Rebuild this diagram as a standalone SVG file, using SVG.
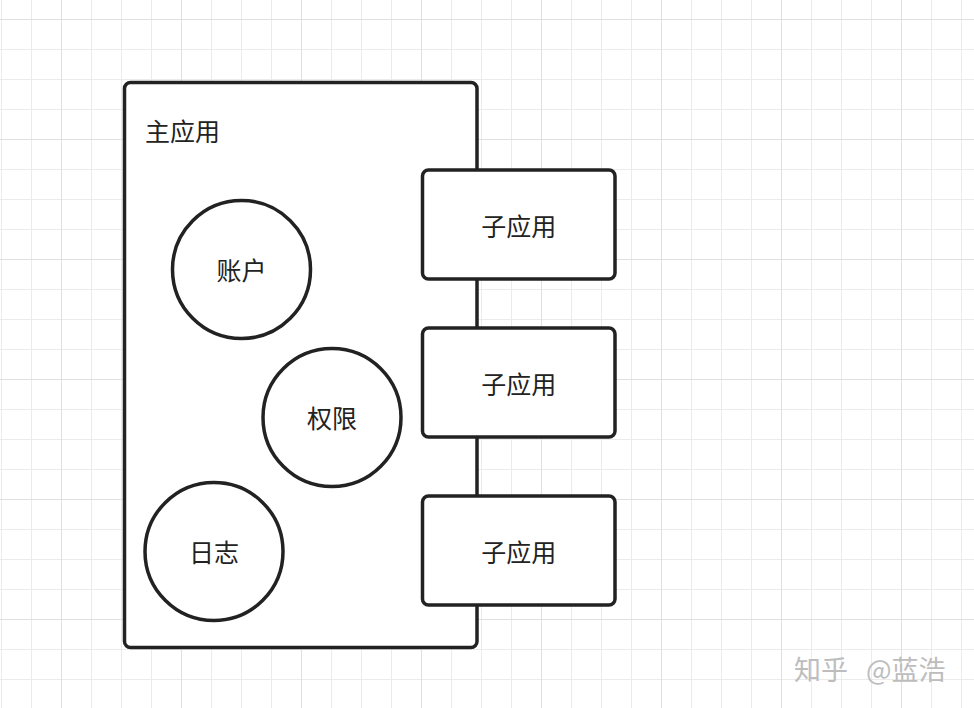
<svg xmlns="http://www.w3.org/2000/svg" width="974" height="708" viewBox="0 0 974 708">
  <defs>
    <pattern id="minor" x="1" y="19" width="30" height="30" patternUnits="userSpaceOnUse">
      <path d="M0 0 H30 M0 0 V30" fill="none" stroke="#ebebeb" stroke-width="2"/>
    </pattern>
    <pattern id="major" x="61" y="19" width="120" height="120" patternUnits="userSpaceOnUse">
      <path d="M0 0 H120 M0 0 V120" fill="none" stroke="#e0e0e0" stroke-width="2"/>
    </pattern>
  </defs>
  <style>
    .shape { fill: #ffffff; stroke: #222222; stroke-width: 3.5; }
    .label { font-family: "PingFang SC", "Noto Sans CJK SC", sans-serif; font-size: 25px; fill: #222222; }
    .c { text-anchor: middle; dominant-baseline: central; }
    .wm { font-family: "Noto Sans CJK SC", sans-serif; font-size: 27px; fill: #bdbdbd; }
  </style>
  <rect x="0" y="0" width="974" height="708" fill="#ffffff"/>
  <rect x="0" y="0" width="974" height="708" fill="url(#minor)"/>
  <rect x="0" y="0" width="974" height="708" fill="url(#major)"/>

  <g id="main-app">
    <rect class="shape" x="124.5" y="82.5" width="352.5" height="565" rx="6"/>
    <text class="label" x="145" y="129.5" dominant-baseline="central">主应用</text>
  </g>

  <g id="account">
    <circle class="shape" cx="241.5" cy="269.5" r="69"/>
    <text class="label c" x="241.5" y="268.5">账户</text>
  </g>
  <g id="permission">
    <circle class="shape" cx="332" cy="417.5" r="69"/>
    <text class="label c" x="332" y="416.5">权限</text>
  </g>
  <g id="log">
    <circle class="shape" cx="214" cy="551.5" r="69"/>
    <text class="label c" x="214" y="550.5">日志</text>
  </g>

  <g id="connectors"></g>

  <g id="sub-app-1">
    <rect class="shape" x="422.5" y="170" width="192.5" height="109" rx="6"/>
    <text class="label c" x="518.75" y="224.5">子应用</text>
  </g>
  <g id="sub-app-2">
    <rect class="shape" x="422.5" y="328" width="192.5" height="109" rx="6"/>
    <text class="label c" x="518.75" y="382.5">子应用</text>
  </g>
  <g id="sub-app-3">
    <rect class="shape" x="422.5" y="496" width="192.5" height="109" rx="6"/>
    <text class="label c" x="518.75" y="550.5">子应用</text>
  </g>

  <g id="watermark">
    <text class="wm" y="668" dominant-baseline="central"><tspan x="794">知乎</tspan><tspan x="866">@蓝浩</tspan></text>
  </g>
</svg>
